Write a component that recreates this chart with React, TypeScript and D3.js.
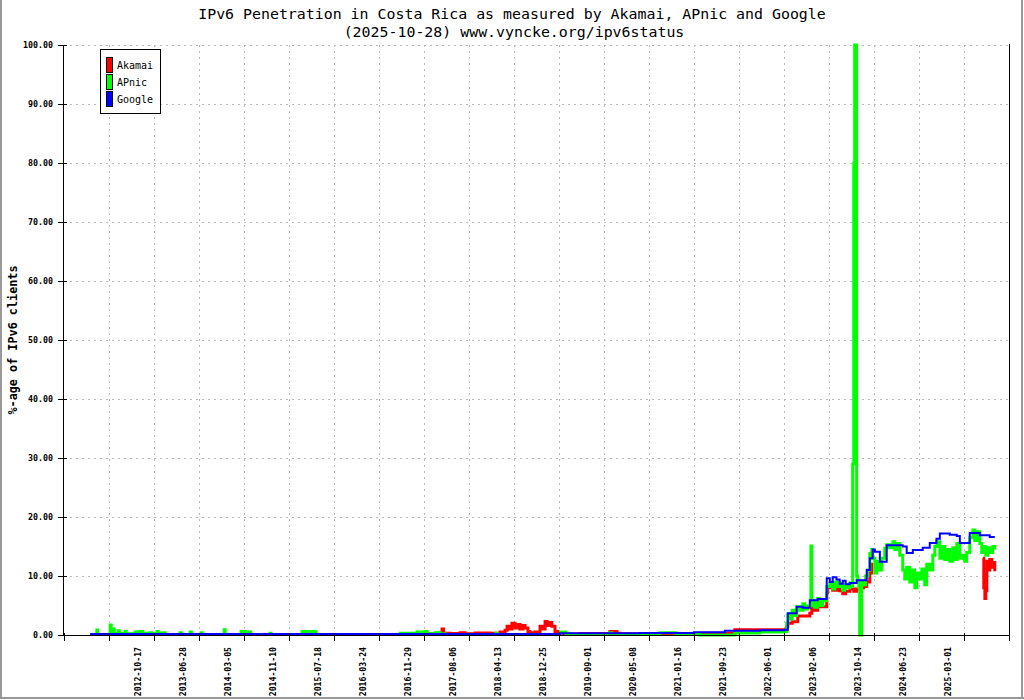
import React from 'react';
import * as d3 from 'd3';

// Tick labels (one every 250 samples)
const xTickLabels = [
  '2012-10-17', '2013-06-28', '2014-03-05', '2014-11-10', '2015-07-18', '2016-03-24',
  '2016-11-29', '2017-08-06', '2018-04-13', '2018-12-25', '2019-09-01', '2020-05-08',
  '2021-01-16', '2021-09-23', '2022-06-01', '2023-02-06', '2023-10-14', '2024-06-23',
  '2025-03-01',
];
const yTicks = [0, 10, 20, 30, 40, 50, 60, 70, 80, 90, 100];

// Sample index (x) and percentage (y)
const googleIdx = [148, 2757, 2979, 3201, 3500, 3672, 3866, 4005, 4022, 4071, 4105, 4144, 4188, 4238, 4255, 4271, 4292, 4310, 4327, 4343, 4366, 4404, 4460, 4477, 4493, 4505, 4533, 4571, 4660, 4682, 4716, 4771, 4810, 4847, 4866, 4921, 4960, 4977, 5015, 5032, 5088, 5143, 5171];
const googleVal = [0.15, 0.3, 0.3, 0.35, 0.45, 0.7, 0.8, 0.9, 3.7, 4.8, 4.6, 5.9, 6.1, 9.6, 9.0, 9.8, 9.4, 8.7, 9.2, 8.6, 8.8, 9.3, 11, 13, 14.5, 14.1, 12.4, 15.2, 15.0, 13.9, 14.4, 14.8, 15.6, 16.3, 17.2, 17.0, 16.8, 15.6, 15.6, 17.3, 16.9, 16.6, 16.6];

const apnicIdx = [148, 185, 190, 259, 265, 276, 282, 304, 310, 342, 348, 398, 420, 426, 440, 481, 490, 520, 526, 553, 565, 648, 655, 703, 710, 764, 770, 892, 898, 986, 1010, 1031, 1040, 1147, 1153, 1325, 1397, 1403, 1869, 1963, 2007, 2020, 2063, 2091, 2120, 2400, 2410, 2760, 2790, 2812, 3034, 3045, 3312, 3400, 3534, 3728, 3866, 4005, 4016, 4022, 4033, 4046, 4060, 4071, 4088, 4105, 4116, 4133, 4150, 4155, 4160, 4171, 4188, 4199, 4216, 4238, 4255, 4271, 4282, 4299, 4310, 4327, 4338, 4355, 4366, 4377, 4382, 4388, 4393, 4399, 4404, 4410, 4416, 4421, 4427, 4432, 4443, 4454, 4466, 4477, 4488, 4493, 4505, 4516, 4533, 4544, 4560, 4571, 4588, 4605, 4616, 4632, 4644, 4660, 4671, 4682, 4699, 4716, 4727, 4738, 4755, 4766, 4782, 4793, 4810, 4827, 4838, 4849, 4866, 4882, 4893, 4905, 4921, 4938, 4949, 4960, 4977, 4993, 5004, 5015, 5032, 5049, 5060, 5071, 5088, 5099, 5110, 5121, 5132, 5143, 5160, 5171];
const apnicVal = [0.1, 0.85, 0.1, 1.7, 0.3, 1.0, 0.2, 0.7, 0.3, 0.6, 0.2, 0.5, 0.3, 0.6, 0.3, 0.4, 0.2, 0.6, 0.3, 0.4, 0.1, 0.4, 0.1, 0.5, 0.1, 0.4, 0.1, 0.9, 0.1, 0.6, 0.3, 0.5, 0.1, 0.3, 0.1, 0.6, 0.5, 0.1, 0.3, 0.5, 0.6, 0.2, 0.4, 0.2, 0.1, 0.3, 0.1, 0.5, 0.2, 0.1, 0.4, 0.1, 0.4, 0.2, 0.0, 0.35, 0.5, 0.6, 2.0, 3.5, 2.7, 4.2, 3.3, 4.8, 4.2, 5.3, 4.4, 4.9, 15.1, 5.0, 5.8, 4.7, 6.2, 5.0, 5.8, 8.2, 8.8, 7.8, 9.0, 8.2, 8.8, 7.6, 8.6, 8.0, 8.8, 8.3, 29, 80, 100, 100, 10, 9, 8, 0, 0, 9, 8.5, 10, 11, 13.8, 14.5, 13, 10.5, 12.5, 11, 13, 14.7, 15.3, 14.8, 15.8, 14.5, 15.5, 13.5, 11, 9.5, 11.5, 9, 11, 8, 10.5, 9.5, 11.2, 8.5, 12, 11, 13.5, 15, 15.8, 13, 15, 12.8, 14.5, 12.5, 14.8, 12.8, 15.5, 13, 13.5, 12.5, 14, 16.5, 17.8, 16, 17.5, 15.5, 14, 15, 13.5, 14.8, 14, 15, 14.5];

const akamaiIdx = [1963, 2091, 2102, 2110, 2146, 2202, 2230, 2285, 2368, 2424, 2452, 2463, 2479, 2490, 2507, 2524, 2535, 2551, 2563, 2579, 2590, 2618, 2646, 2663, 2674, 2685, 2701, 2712, 2729, 2746, 2757, 2868, 3034, 3073, 3090, 3534, 3728, 4005, 4016, 4022, 4046, 4077, 4144, 4155, 4171, 4188, 4238, 4243, 4271, 4299, 4310, 4327, 4343, 4366, 4388, 4404, 4421, 4443, 4460, 4477, 4488, 4496, 4500, 5105, 5110, 5116, 5121, 5127, 5132, 5143, 5155, 5160, 5171];
const akamaiVal = [0.2, 0.3, 1.0, 0.3, 0.25, 0.4, 0.2, 0.35, 0.3, 0.5, 0.8, 1.5, 1.0, 2.0, 1.2, 1.8, 1.0, 1.6, 1.2, 0.6, 0.4, 0.5, 1.5, 1.0, 2.3, 1.6, 2.1, 1.5, 0.6, 0.3, 0.15, 0.25, 0.6, 0.3, 0.2, 0.3, 0.9, 0.9, 1.5, 2.0, 2.25, 3.2, 3.7, 4.6, 4.2, 4.8, 7.1, 8.0, 7.6, 8.2, 7.5, 7.0, 7.4, 7.8, 7.4, 7.8, 8.0, 8.2, 9.0, 10.5, 12.0, 12.0, NaN, 13.0, 8.0, 6.2, 7.5, 12.5, 11.0, 12.8, 11.5, 12.3, 10.8];

const seriesNames = ['Akamai', 'APnic', 'Google'];
const seriesColors = ['#ff0000', '#00ff00', '#0000ff'];

export default function App() {
  const W = 1024, H = 700;
  const x = d3.scaleLinear().domain([0, 5250]).range([63.5, 1009]);
  const y = d3.scaleLinear().domain([0, 100]).range([635, 45]);
  const tickIdx = d3.range(0, 5251, 250);

  const line = d3.line<[number, number]>()
    .defined(d => !isNaN(d[1]))
    .x(d => x(d[0]))
    .y(d => y(d[1]))
    .curve(d3.curveStepAfter);

  const series = [
    { pts: akamaiIdx.map((v, i) => [v, akamaiVal[i]] as [number, number]), color: seriesColors[0], w: 3 },
    { pts: apnicIdx.map((v, i) => [v, apnicVal[i]] as [number, number]), color: seriesColors[1], w: 3 },
    { pts: googleIdx.map((v, i) => [v, googleVal[i]] as [number, number]), color: seriesColors[2], w: 2 },
  ];

  const mono = '"DejaVu Sans Mono", monospace';

  return (
    <svg width={W} height={H} style={{ position: 'absolute', left: 0, top: 0, background: '#fff' }}>
      <rect x={0} y={0} width={W} height={H} fill="#fff" />
      {/* outer frame */}
      <line x1={1} y1={0} x2={1} y2={699} stroke="#999" strokeWidth={2} />
      <line x1={1022} y1={0} x2={1022} y2={699} stroke="#999" strokeWidth={2} />
      <line x1={0} y1={698} x2={1024} y2={698} stroke="#999" strokeWidth={2} />

      {/* title */}
      <text x={512} y={19} textAnchor="middle" fontFamily={mono} fontSize={14.9} fill="#000">
        IPv6 Penetration in Costa Rica as measured by Akamai, APnic and Google
      </text>
      <text x={514} y={37} textAnchor="middle" fontFamily={mono} fontSize={14.9} fill="#000">
        (2025-10-28) www.vyncke.org/ipv6status
      </text>

      {/* grid */}
      {yTicks.filter(t => t > 0).map(t => (
        <line key={'gy' + t} x1={64} x2={1008} y1={Math.round(y(t)) + 0.5} y2={Math.round(y(t)) + 0.5}
          stroke="#bbb" strokeDasharray="2,4" />
      ))}
      {tickIdx.slice(1, -1).map(t => (
        <line key={'gx' + t} x1={Math.round(x(t)) + 0.5} x2={Math.round(x(t)) + 0.5} y1={45} y2={634}
          stroke="#bbb" strokeDasharray="2,4" />
      ))}

      {/* data */}
      {series.map((s, i) => (
        <path key={i} d={line(s.pts) || ''} fill="none" stroke={s.color} strokeWidth={s.w} />
      ))}

      {/* axes */}
      <line x1={63.5} x2={63.5} y1={45} y2={636} stroke="#000" />
      <line x1={1009.5} x2={1009.5} y1={44} y2={636} stroke="#000" />
      <line x1={58} x2={1010} y1={635.5} y2={635.5} stroke="#000" />
      {yTicks.map(t => (
        <g key={'yt' + t}>
          <line x1={58} x2={67} y1={Math.round(y(t)) + 0.5} y2={Math.round(y(t)) + 0.5} stroke="#000" />
          <text x={53} y={y(t) + 3} textAnchor="end" fontFamily={mono} fontSize={8.3} fontWeight="bold" fill="#000">
            {t.toFixed(2)}
          </text>
        </g>
      ))}
      {tickIdx.map(t => (
        <line key={'xt' + t} x1={Math.round(x(t)) + 0.5} x2={Math.round(x(t)) + 0.5} y1={633} y2={641} stroke="#000" />
      ))}
      {xTickLabels.map((lab, i) => {
        const px = x(tickIdx[i + 1]) + 32;
        return (
          <text key={lab} transform={`translate(${px},647) rotate(-90)`} textAnchor="end"
            fontFamily={mono} fontSize={8.2} fontWeight="bold" fill="#000">{lab}</text>
        );
      })}

      {/* y title */}
      <text transform="translate(17,340) rotate(-90)" textAnchor="middle" fontFamily={mono}
        fontSize={11.8} fontWeight="bold" fill="#000">%-age of IPv6 clients</text>

      {/* legend */}
      <rect x={100.5} y={49.5} width={60} height={64} fill="#fff" stroke="#000" />
      {seriesNames.map((n, i) => (
        <g key={n}>
          <rect x={106.5} y={57.5 + i * 17} width={6} height={15} fill={seriesColors[i]} stroke="#000" />
          <text x={117} y={69 + i * 17} fontFamily={mono} fontSize={10} fill="#000">{n}</text>
        </g>
      ))}
    </svg>
  );
}
